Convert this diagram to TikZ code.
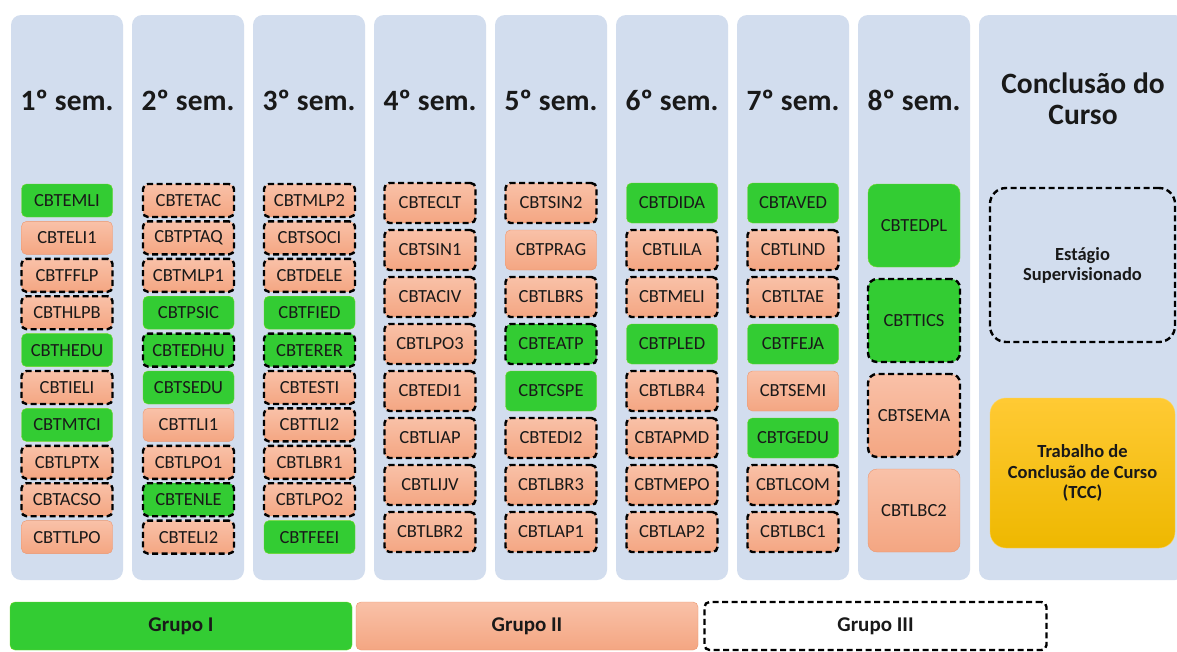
\documentclass[tikz,border=0pt]{standalone}
\usepackage{fontspec}
\setmainfont{Carlito}
\usetikzlibrary{positioning}
\definecolor{panelbg}{RGB}{210,221,238}
\definecolor{grpgreen}{RGB}{51,204,51}
\definecolor{salmontop}{RGB}{249,193,168}
\definecolor{salmonbot}{RGB}{244,166,130}
\definecolor{salmonedge}{RGB}{236,150,110}
\definecolor{goldtop}{RGB}{255,202,52}
\definecolor{goldbot}{RGB}{238,184,0}
\definecolor{inkdark}{RGB}{25,25,25}

\begin{document}
\begin{tikzpicture}[
    x=1pt, y=-1pt,
    panel/.style={rectangle, fill=panelbg, rounded corners=10pt, minimum width=112pt, minimum height=565pt, inner sep=0pt, outer sep=0pt},
    semtitle/.style={font=\fontsize{29.5}{31}\selectfont\bfseries, text=inkdark, align=center},
    course/.style={rectangle, rounded corners=5pt, minimum width=91pt, minimum height=33pt, inner sep=0pt, outer sep=0pt, text=inkdark, font=\fontsize{18.5}{20}\selectfont},
    gI/.style={course, fill=grpgreen, draw=grpgreen!70!yellow, thin},
    gII/.style={course, top color=salmontop, bottom color=salmonbot, draw=salmonedge, thin},
    gIII/.style={draw=black, dash pattern=on 6pt off 3.5pt, line width=2.4pt},
    tall/.style={minimum height=40pt},
    big/.style={minimum width=92pt, minimum height=83pt, rounded corners=9pt},
    legend/.style={minimum width=342pt, minimum height=48pt, font=\fontsize{21}{23}\selectfont\bfseries}
]
    \clip (0,0) rectangle (1177,651);
    \fill[white] (0,0) rectangle (1177,651);

    % semester panels
    \node[panel] (p1) at (67,297.5) {};
    \node[panel] (p2) at (188,297.5) {};
    \node[panel] (p3) at (309,297.5) {};
    \node[panel] (p4) at (430,297.5) {};
    \node[panel] (p5) at (551,297.5) {};
    \node[panel] (p6) at (672,297.5) {};
    \node[panel] (p7) at (793,297.5) {};
    \node[panel] (p8) at (914,297.5) {};
    \node[panel, minimum width=206pt] (p9) at (1082,297.5) {};

    \node[semtitle] (t1) at (67,100) {1º sem.};
    \node[semtitle] (t2) at (188,100) {2º sem.};
    \node[semtitle] (t3) at (309,100) {3º sem.};
    \node[semtitle] (t4) at (430,100) {4º sem.};
    \node[semtitle] (t5) at (551,100) {5º sem.};
    \node[semtitle] (t6) at (672,100) {6º sem.};
    \node[semtitle] (t7) at (793,100) {7º sem.};
    \node[semtitle] (t8) at (914,100) {8º sem.};
    \node[semtitle] (t9) at (1083,99) {Conclusão do\\Curso};

    % 1st semester
    \node[gI] (CBTEMLI) at (67,200.5) {CBTEMLI};
    \node[gII, below=4.4pt of CBTEMLI] (CBTELI1) {CBTELI1};
    \node[gII, gIII, below=4.4pt of CBTELI1] (CBTFFLP) {CBTFFLP};
    \node[gII, gIII, below=4.4pt of CBTFFLP] (CBTHLPB) {CBTHLPB};
    \node[gI, below=4.4pt of CBTHLPB] (CBTHEDU) {CBTHEDU};
    \node[gII, gIII, below=4.4pt of CBTHEDU] (CBTIELI) {CBTIELI};
    \node[gI, below=4.4pt of CBTIELI] (CBTMTCI) {CBTMTCI};
    \node[gII, gIII, below=4.4pt of CBTMTCI] (CBTLPTX) {CBTLPTX};
    \node[gII, gIII, below=4.4pt of CBTLPTX] (CBTACSO) {CBTACSO};
    \node[gII, below=4.4pt of CBTACSO] (CBTTLPO) {CBTTLPO};

    % 2nd semester
    \node[gII, gIII] (CBTETAC) at (188.5,200.5) {CBTETAC};
    \node[gII, gIII, below=4.4pt of CBTETAC] (CBTPTAQ) {CBTPTAQ};
    \node[gII, gIII, below=4.4pt of CBTPTAQ] (CBTMLP1) {CBTMLP1};
    \node[gI, below=4.4pt of CBTMLP1] (CBTPSIC) {CBTPSIC};
    \node[gI, gIII, below=4.4pt of CBTPSIC] (CBTEDHU) {CBTEDHU};
    \node[gI, below=4.4pt of CBTEDHU] (CBTSEDU) {CBTSEDU};
    \node[gII, below=4.4pt of CBTSEDU] (CBTTLI1) {CBTTLI1};
    \node[gII, gIII, below=4.4pt of CBTTLI1] (CBTLPO1) {CBTLPO1};
    \node[gI, gIII, below=4.4pt of CBTLPO1] (CBTENLE) {CBTENLE};
    \node[gII, gIII, below=4.4pt of CBTENLE] (CBTELI2) {CBTELI2};

    % 3rd semester
    \node[gII, gIII] (CBTMLP2) at (309.5,200.5) {CBTMLP2};
    \node[gII, gIII, below=4.4pt of CBTMLP2] (CBTSOCI) {CBTSOCI};
    \node[gII, gIII, below=4.4pt of CBTSOCI] (CBTDELE) {CBTDELE};
    \node[gI, below=4.4pt of CBTDELE] (CBTFIED) {CBTFIED};
    \node[gI, gIII, below=4.4pt of CBTFIED] (CBTERER) {CBTERER};
    \node[gII, gIII, below=4.4pt of CBTERER] (CBTESTI) {CBTESTI};
    \node[gII, gIII, below=4.4pt of CBTESTI] (CBTTLI2) {CBTTLI2};
    \node[gII, gIII, below=4.4pt of CBTTLI2] (CBTLBR1) {CBTLBR1};
    \node[gII, gIII, below=4.4pt of CBTLBR1] (CBTLPO2) {CBTLPO2};
    \node[gI, below=4.4pt of CBTLPO2] (CBTFEEI) {CBTFEEI};

    % 4th semester
    \node[gII, gIII, tall] (CBTECLT) at (430,203) {CBTECLT};
    \node[gII, gIII, tall, below=7pt of CBTECLT] (CBTSIN1) {CBTSIN1};
    \node[gII, gIII, tall, below=7pt of CBTSIN1] (CBTACIV) {CBTACIV};
    \node[gII, gIII, tall, below=7pt of CBTACIV] (CBTLPO3) {CBTLPO3};
    \node[gII, gIII, tall, below=7pt of CBTLPO3] (CBTEDI1) {CBTEDI1};
    \node[gII, gIII, tall, below=7pt of CBTEDI1] (CBTLIAP) {CBTLIAP};
    \node[gII, gIII, tall, below=7pt of CBTLIAP] (CBTLIJV) {CBTLIJV};
    \node[gII, gIII, tall, below=7pt of CBTLIJV] (CBTLBR2) {CBTLBR2};

    % 5th semester
    \node[gII, gIII, tall] (CBTSIN2) at (551,203) {CBTSIN2};
    \node[gII, tall, below=7pt of CBTSIN2] (CBTPRAG) {CBTPRAG};
    \node[gII, gIII, tall, below=7pt of CBTPRAG] (CBTLBRS) {CBTLBRS};
    \node[gI, gIII, tall, below=7pt of CBTLBRS] (CBTEATP) {CBTEATP};
    \node[gI, tall, below=7pt of CBTEATP] (CBTCSPE) {CBTCSPE};
    \node[gII, gIII, tall, below=7pt of CBTCSPE] (CBTEDI2) {CBTEDI2};
    \node[gII, gIII, tall, below=7pt of CBTEDI2] (CBTLBR3) {CBTLBR3};
    \node[gII, gIII, tall, below=7pt of CBTLBR3] (CBTLAP1) {CBTLAP1};

    % 6th semester
    \node[gI, tall] (CBTDIDA) at (672,203) {CBTDIDA};
    \node[gII, gIII, tall, below=7pt of CBTDIDA] (CBTLILA) {CBTLILA};
    \node[gII, gIII, tall, below=7pt of CBTLILA] (CBTMELI) {CBTMELI};
    \node[gI, tall, below=7pt of CBTMELI] (CBTPLED) {CBTPLED};
    \node[gII, gIII, tall, below=7pt of CBTPLED] (CBTLBR4) {CBTLBR4};
    \node[gII, gIII, tall, below=7pt of CBTLBR4] (CBTAPMD) {CBTAPMD};
    \node[gII, gIII, tall, below=7pt of CBTAPMD] (CBTMEPO) {CBTMEPO};
    \node[gII, gIII, tall, below=7pt of CBTMEPO] (CBTLAP2) {CBTLAP2};

    % 7th semester
    \node[gI, tall] (CBTAVED) at (793,203) {CBTAVED};
    \node[gII, gIII, tall, below=7pt of CBTAVED] (CBTLIND) {CBTLIND};
    \node[gII, gIII, tall, below=7pt of CBTLIND] (CBTLTAE) {CBTLTAE};
    \node[gI, tall, below=7pt of CBTLTAE] (CBTFEJA) {CBTFEJA};
    \node[gII, tall, below=7pt of CBTFEJA] (CBTSEMI) {CBTSEMI};
    \node[gI, tall, below=7pt of CBTSEMI] (CBTGEDU) {CBTGEDU};
    \node[gII, gIII, tall, below=7pt of CBTGEDU] (CBTLCOM) {CBTLCOM};
    \node[gII, gIII, tall, below=7pt of CBTLCOM] (CBTLBC1) {CBTLBC1};

    % 8th semester
    \node[gI, big] (CBTEDPL) at (914,225.5) {CBTEDPL};
    \node[gI, gIII, big, below=12pt of CBTEDPL] (CBTTICS) {CBTTICS};
    \node[gII, gIII, big, below=12pt of CBTTICS] (CBTSEMA) {CBTSEMA};
    \node[gII, big, below=12pt of CBTSEMA] (CBTLBC2) {CBTLBC2};

    % course conclusion
    \node[course, gIII, minimum width=185pt, minimum height=154pt, rounded corners=16pt, font=\fontsize{18.5}{20}\selectfont\bfseries, align=center] (estagio) at (1082.5,265) {Estágio\\Supervisionado};
    \node[course, top color=goldtop, bottom color=goldbot, draw=goldtop!80!white, thin, minimum width=185pt, minimum height=150pt, rounded corners=16pt, font=\fontsize{18.5}{20.5}\selectfont\bfseries, align=center] (tcc) at (1082.5,473) {Trabalho de\\Conclusão de Curso\\(TCC)};

    % legend
    \node[gI, legend] (grupo1) at (181,626) {Grupo I};
    \node[gII, legend] (grupo2) at (527,626) {Grupo II};
    \node[course, gIII, legend, fill=white] (grupo3) at (875.5,626) {Grupo III};
\end{tikzpicture}
\end{document}
